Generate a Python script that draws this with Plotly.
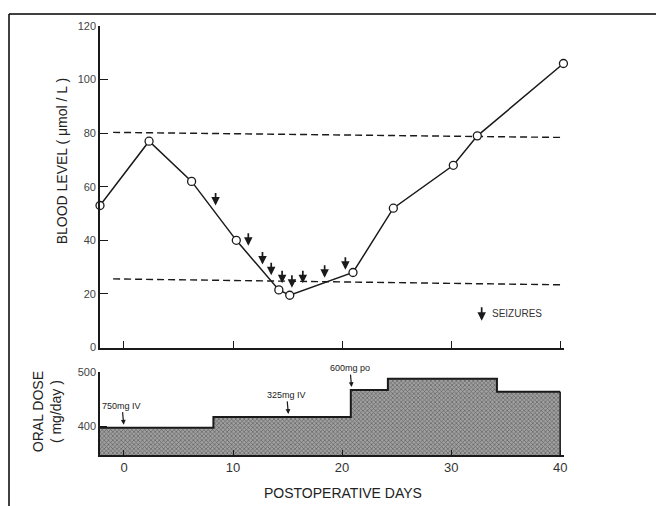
import plotly.graph_objects as go

# ---------------- data ----------------
blood_days = [-2.2, 2.3, 6.2, 10.3, 14.2, 15.2, 21.0, 24.7, 30.2, 32.4, 40.3]
blood_level = [53, 77, 62, 40, 21.5, 19.5, 28, 52, 68, 79, 106]

seizure_days = [8.4, 11.4, 12.7, 13.5, 14.5, 15.4, 16.4, 18.4, 20.3]
seizure_level = [53, 38, 31, 27, 24, 22.3, 24, 26, 29]

ther_days = [-1.0, 40.2]
ther_upper = [80.3, 78.4]
ther_lower = [25.6, 23.4]

dose_days = [-2.2, 8.2, 20.8, 24.2, 34.2, 40]
dose_vals = [397, 417, 467, 488, 464, 464]
DOSE_BASE = 346

dose_notes = ["750mg IV", "325mg IV", "600mg po"]
dose_note_days = [0, 15.1, 20.9]
dose_note_vals = [397, 417, 467]

x_ticks = [0, 10, 20, 30, 40]
blood_ticks = [0, 20, 40, 60, 80, 100, 120]
dose_ticks = [400, 500]

INK = "#1a1a1a"
FONT = "Liberation Sans, Arial, sans-serif"

# plot area in screen pixels (page has an 8px body margin)
PL, PR, PT, PB = 100, 564, 24, 455
PW, PH = PR - PL, PB - PT


def px(x):
    return (x - PL) / PW


def py(y):
    return (PB - y) / PH


fig = go.Figure()

# dose step area (bottom panel)
fig.add_trace(go.Scatter(
    x=dose_days, y=dose_vals, xaxis="x", yaxis="y",
    mode="lines", line=dict(shape="hv", color=INK, width=2),
    fill="tozeroy", fillcolor="#8a8a8a",
    fillpattern=dict(shape="x", size=3, solidity=0.4, fgcolor="#222222", bgcolor="#a0a0a0"),
    hoverinfo="skip", showlegend=False))

# therapeutic range dashed lines (top panel)
for ys in (ther_upper, ther_lower):
    fig.add_trace(go.Scatter(
        x=ther_days, y=ys, xaxis="x2", yaxis="y2", mode="lines",
        line=dict(color=INK, width=1.4, dash="7px,4px"),
        hoverinfo="skip", showlegend=False))

# blood level line
fig.add_trace(go.Scatter(
    x=blood_days, y=blood_level, xaxis="x2", yaxis="y2",
    mode="lines+markers", line=dict(color=INK, width=1.5),
    marker=dict(symbol="circle", size=8, color="white", line=dict(color=INK, width=1.3)),
    cliponaxis=False, showlegend=False))

annotations = []
# seizure arrows
for d, v in zip(seizure_days, seizure_level):
    annotations.append(dict(x=d, y=v, xref="x2", yref="y2", text="", showarrow=True,
                            ax=0, ay=-14, arrowhead=2, arrowsize=1, arrowwidth=1.7,
                            arrowcolor=INK))
# legend
annotations.append(dict(x=32.8, y=10, xref="x2", yref="y2", text="", showarrow=True,
                        ax=0, ay=-15, arrowhead=2, arrowsize=1, arrowwidth=1.7,
                        arrowcolor=INK))
annotations.append(dict(x=33.6, y=12.6, xref="x2", yref="y2", text="SEIZURES",
                        showarrow=False, xanchor="left", yanchor="middle",
                        font=dict(family=FONT, size=10, color="#333")))
# dose notes
for t, d, v in zip(dose_notes, dose_note_days, dose_note_vals):
    annotations.append(dict(x=d, y=v, xref="x", yref="y", text=t, showarrow=True,
                            ax=-2, ay=-22, arrowhead=2, arrowsize=0.8, arrowwidth=1.2,
                            arrowcolor=INK, standoff=3,
                            font=dict(family=FONT, size=9, color="#222")))

# axis titles
annotations.append(dict(x=px(62), y=py(160), xref="paper", yref="paper",
                        xanchor="center", yanchor="middle",
                        text="BLOOD LEVEL ( μmol / L )", textangle=-90, showarrow=False,
                        font=dict(family=FONT, size=14, color="#222")))
annotations.append(dict(x=px(47), y=py(412), xref="paper", yref="paper",
                        xanchor="center", yanchor="middle",
                        text="ORAL DOSE<br>( mg/day )", textangle=-90, showarrow=False,
                        font=dict(family=FONT, size=14, color="#222")))
annotations.append(dict(x=px(343), y=py(493), xref="paper", yref="paper",
                        xanchor="center", yanchor="middle",
                        text="POSTOPERATIVE DAYS", showarrow=False,
                        font=dict(family=FONT, size=14, color="#222")))

shapes = [
    # right edge of the dose area
    dict(type="line", xref="x", yref="y", x0=dose_days[-1], x1=dose_days[-1],
         y0=DOSE_BASE, y1=dose_vals[-1], line=dict(color=INK, width=1.5)),
    # figure frame
    dict(type="line", xref="paper", yref="paper", x0=px(9), x1=1.3,
         y0=py(12), y1=py(12), line=dict(color="black", width=1.5)),
    dict(type="line", xref="paper", yref="paper", x0=px(9), x1=px(9),
         y0=py(12), y1=-0.3, line=dict(color="black", width=1.5)),
]

XR = [-2.2, 40.35]

fig.update_layout(
    width=656, height=498,
    margin=dict(l=PL - 8, r=664 - PR, t=PT - 8, b=506 - PB),
    paper_bgcolor="white", plot_bgcolor="white",
    showlegend=False,
    font=dict(family=FONT, color="#333"),
    xaxis=dict(domain=[0, 1], range=XR, anchor="y",
               tickvals=x_ticks, ticks="inside", ticklen=5, tickwidth=1.2, tickcolor=INK,
               showline=True, linecolor=INK, linewidth=1.6, showgrid=False, zeroline=False,
               tickfont=dict(family=FONT, size=13, color="#333")),
    yaxis=dict(domain=[0, py(372)], range=[DOSE_BASE, 500], anchor="x",
               tickvals=dose_ticks, ticks="inside", ticklen=7, tickwidth=1.2, tickcolor=INK,
               showline=True, linecolor=INK, linewidth=1.6, showgrid=False, zeroline=False,
               tickfont=dict(family=FONT, size=11, color="#444")),
    xaxis2=dict(domain=[0, 1], range=XR, anchor="y2", matches="x",
                tickvals=x_ticks, ticks="inside", ticklen=7, tickwidth=1.2, tickcolor=INK,
                showticklabels=False,
                showline=True, linecolor=INK, linewidth=1.6, showgrid=False, zeroline=False),
    yaxis2=dict(domain=[py(347), 1], range=[0, 120], anchor="x2",
                tickvals=blood_ticks, ticks="inside", ticklen=8, tickwidth=1.2, tickcolor=INK,
                showline=True, linecolor=INK, linewidth=1.6, showgrid=False, zeroline=False,
                tickfont=dict(family=FONT, size=11, color="#444")),
    annotations=annotations,
    shapes=shapes,
)

fig.write_html("out.html")
